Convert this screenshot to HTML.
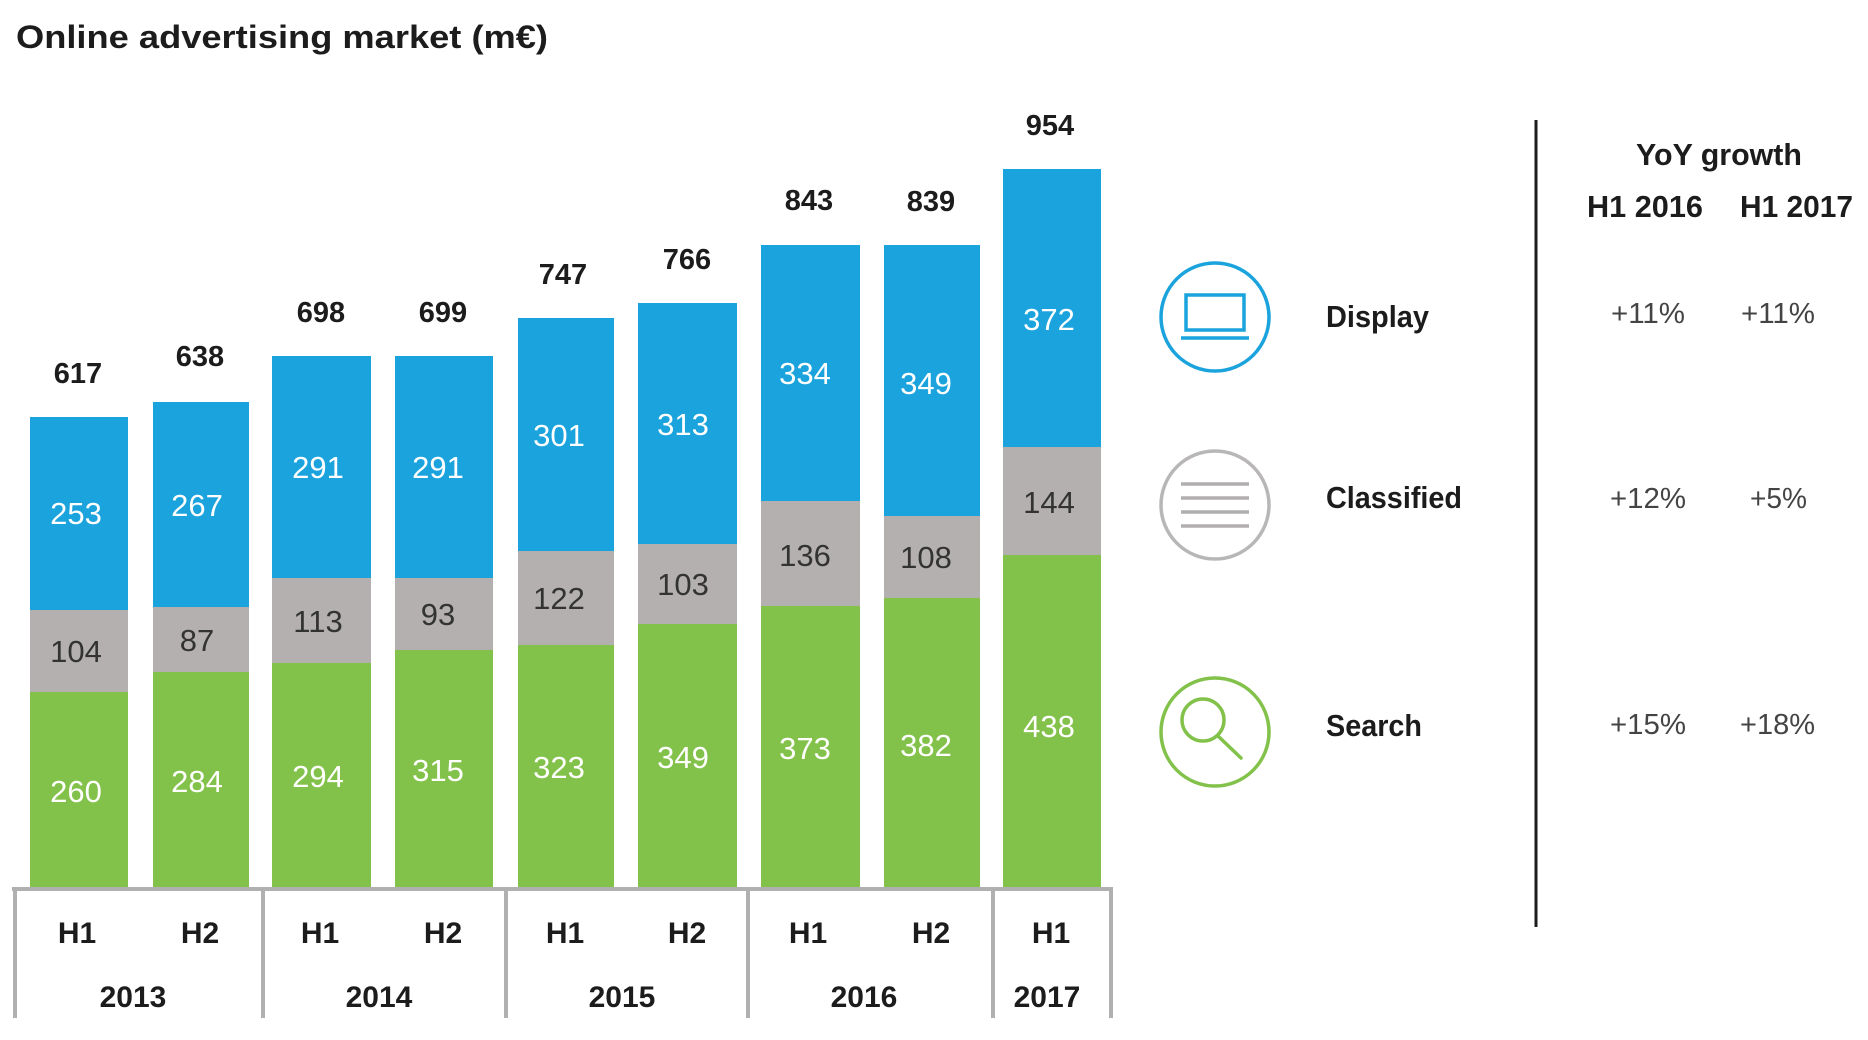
<!DOCTYPE html>
<html>
<head>
<meta charset="utf-8">
<style>
html,body{margin:0;padding:0;background:#fff;}
svg{display:block;}
text{font-family:"Liberation Sans",sans-serif;}
.t{font-weight:bold;fill:#1c1c1c;font-size:29px;text-anchor:middle;}
.w{fill:#fff;font-size:31px;text-anchor:middle;}
.g{fill:#333;font-size:31px;text-anchor:middle;}
.ax{font-weight:bold;fill:#1c1c1c;font-size:30px;text-anchor:middle;}
.lg{font-weight:bold;fill:#1c1c1c;font-size:31px;}
.pc{fill:#444;font-size:29px;}
</style>
</head>
<body>
<svg width="1868" height="1040" viewBox="0 0 1868 1040" xmlns="http://www.w3.org/2000/svg">
<rect width="1868" height="1040" fill="#fff"/>
<text x="16" y="48" font-size="32" font-weight="bold" fill="#1c1c1c" textLength="532" lengthAdjust="spacingAndGlyphs">Online advertising market (m€)</text>

<!-- Bars -->
<g>
<!-- 1 -->
<rect x="30" y="417" width="98" height="193" fill="#1aa3dc"/>
<rect x="30" y="610" width="98" height="82" fill="#b4b0b0"/>
<rect x="30" y="692" width="98" height="197" fill="#83c24a"/>
<!-- 2 -->
<rect x="153" y="402" width="96" height="205" fill="#1aa3dc"/>
<rect x="153" y="607" width="96" height="65" fill="#b4b0b0"/>
<rect x="153" y="672" width="96" height="217" fill="#83c24a"/>
<!-- 3 -->
<rect x="272" y="356" width="99" height="222" fill="#1aa3dc"/>
<rect x="272" y="578" width="99" height="85" fill="#b4b0b0"/>
<rect x="272" y="663" width="99" height="226" fill="#83c24a"/>
<!-- 4 -->
<rect x="395" y="356" width="98" height="222" fill="#1aa3dc"/>
<rect x="395" y="578" width="98" height="72" fill="#b4b0b0"/>
<rect x="395" y="650" width="98" height="239" fill="#83c24a"/>
<!-- 5 -->
<rect x="518" y="318" width="96" height="233" fill="#1aa3dc"/>
<rect x="518" y="551" width="96" height="94" fill="#b4b0b0"/>
<rect x="518" y="645" width="96" height="244" fill="#83c24a"/>
<!-- 6 -->
<rect x="638" y="303" width="99" height="241" fill="#1aa3dc"/>
<rect x="638" y="544" width="99" height="80" fill="#b4b0b0"/>
<rect x="638" y="624" width="99" height="265" fill="#83c24a"/>
<!-- 7 -->
<rect x="761" y="245" width="99" height="256" fill="#1aa3dc"/>
<rect x="761" y="501" width="99" height="105" fill="#b4b0b0"/>
<rect x="761" y="606" width="99" height="283" fill="#83c24a"/>
<!-- 8 -->
<rect x="884" y="245" width="96" height="271" fill="#1aa3dc"/>
<rect x="884" y="516" width="96" height="82" fill="#b4b0b0"/>
<rect x="884" y="598" width="96" height="291" fill="#83c24a"/>
<!-- 9 -->
<rect x="1003" y="169" width="98" height="278" fill="#1aa3dc"/>
<rect x="1003" y="447" width="98" height="108" fill="#b4b0b0"/>
<rect x="1003" y="555" width="98" height="334" fill="#83c24a"/>
</g>

<!-- Totals -->
<text class="t" x="78" y="383">617</text>
<text class="t" x="200" y="366">638</text>
<text class="t" x="321" y="322">698</text>
<text class="t" x="443" y="322">699</text>
<text class="t" x="563" y="284">747</text>
<text class="t" x="687" y="269">766</text>
<text class="t" x="809" y="210">843</text>
<text class="t" x="931" y="211">839</text>
<text class="t" x="1050" y="135">954</text>

<!-- Segment labels -->
<text class="w" x="76" y="524">253</text>
<text class="g" x="76" y="662">104</text>
<text class="w" x="76" y="802">260</text>

<text class="w" x="197" y="516">267</text>
<text class="g" x="197" y="651">87</text>
<text class="w" x="197" y="792">284</text>

<text class="w" x="318" y="478">291</text>
<text class="g" x="318" y="632">113</text>
<text class="w" x="318" y="787">294</text>

<text class="w" x="438" y="478">291</text>
<text class="g" x="438" y="625">93</text>
<text class="w" x="438" y="781">315</text>

<text class="w" x="559" y="446">301</text>
<text class="g" x="559" y="609">122</text>
<text class="w" x="559" y="778">323</text>

<text class="w" x="683" y="435">313</text>
<text class="g" x="683" y="595">103</text>
<text class="w" x="683" y="768">349</text>

<text class="w" x="805" y="384">334</text>
<text class="g" x="805" y="566">136</text>
<text class="w" x="805" y="759">373</text>

<text class="w" x="926" y="394">349</text>
<text class="g" x="926" y="568">108</text>
<text class="w" x="926" y="756">382</text>

<text class="w" x="1049" y="330">372</text>
<text class="g" x="1049" y="513">144</text>
<text class="w" x="1049" y="737">438</text>

<!-- Axis -->
<g stroke="#b0b0b0" stroke-width="4" fill="none">
<line x1="12" y1="889" x2="1113" y2="889"/>
<line x1="15" y1="887" x2="15" y2="1018"/>
<line x1="263" y1="887" x2="263" y2="1018"/>
<line x1="506" y1="887" x2="506" y2="1018"/>
<line x1="748" y1="887" x2="748" y2="1018"/>
<line x1="993" y1="887" x2="993" y2="1018"/>
<line x1="1111" y1="887" x2="1111" y2="1018"/>
</g>
<text class="ax" x="77" y="943">H1</text>
<text class="ax" x="200" y="943">H2</text>
<text class="ax" x="320" y="943">H1</text>
<text class="ax" x="443" y="943">H2</text>
<text class="ax" x="565" y="943">H1</text>
<text class="ax" x="687" y="943">H2</text>
<text class="ax" x="808" y="943">H1</text>
<text class="ax" x="931" y="943">H2</text>
<text class="ax" x="1051" y="943">H1</text>
<text class="ax" x="133" y="1007">2013</text>
<text class="ax" x="379" y="1007">2014</text>
<text class="ax" x="622" y="1007">2015</text>
<text class="ax" x="864" y="1007">2016</text>
<text class="ax" x="1047" y="1007">2017</text>

<!-- Legend icons -->
<circle cx="1215" cy="317" r="54" fill="none" stroke="#1aa3dc" stroke-width="3.5"/>
<rect x="1186" y="295" width="58" height="35" fill="none" stroke="#1aa3dc" stroke-width="3.5"/>
<line x1="1181" y1="338" x2="1249" y2="338" stroke="#1aa3dc" stroke-width="3.5"/>

<circle cx="1215" cy="505" r="54" fill="none" stroke="#b8b6b6" stroke-width="3.5"/>
<g stroke="#b0aeae" stroke-width="3.5">
<line x1="1181" y1="484" x2="1249" y2="484"/>
<line x1="1181" y1="498" x2="1249" y2="498"/>
<line x1="1181" y1="512" x2="1249" y2="512"/>
<line x1="1181" y1="526" x2="1249" y2="526"/>
</g>

<circle cx="1215" cy="732" r="54" fill="none" stroke="#83c24a" stroke-width="3.5"/>
<circle cx="1203" cy="720" r="21" fill="none" stroke="#83c24a" stroke-width="3.5"/>
<line x1="1218" y1="736" x2="1241" y2="758" stroke="#83c24a" stroke-width="3.5" stroke-linecap="round"/>

<text class="lg" x="1326" y="327" textLength="103" lengthAdjust="spacingAndGlyphs">Display</text>
<text class="lg" x="1326" y="508" textLength="136" lengthAdjust="spacingAndGlyphs">Classified</text>
<text class="lg" x="1326" y="736" textLength="96" lengthAdjust="spacingAndGlyphs">Search</text>

<!-- Divider -->
<line x1="1536" y1="120" x2="1536" y2="927" stroke="#1c1c1c" stroke-width="3"/>

<!-- YoY table -->
<text class="lg" x="1636" y="165" font-size="30" textLength="166" lengthAdjust="spacingAndGlyphs">YoY growth</text>
<text class="lg" x="1587" y="217" font-size="30" textLength="116" lengthAdjust="spacingAndGlyphs">H1 2016</text>
<text class="lg" x="1740" y="217" font-size="30" textLength="113" lengthAdjust="spacingAndGlyphs">H1 2017</text>

<text class="pc" x="1611" y="323" textLength="74" lengthAdjust="spacingAndGlyphs">+11%</text>
<text class="pc" x="1741" y="323" textLength="74" lengthAdjust="spacingAndGlyphs">+11%</text>
<text class="pc" x="1610" y="508" textLength="76" lengthAdjust="spacingAndGlyphs">+12%</text>
<text class="pc" x="1750" y="508" textLength="57" lengthAdjust="spacingAndGlyphs">+5%</text>
<text class="pc" x="1610" y="734" textLength="76" lengthAdjust="spacingAndGlyphs">+15%</text>
<text class="pc" x="1740" y="734" textLength="75" lengthAdjust="spacingAndGlyphs">+18%</text>
</svg>
</body>
</html>
